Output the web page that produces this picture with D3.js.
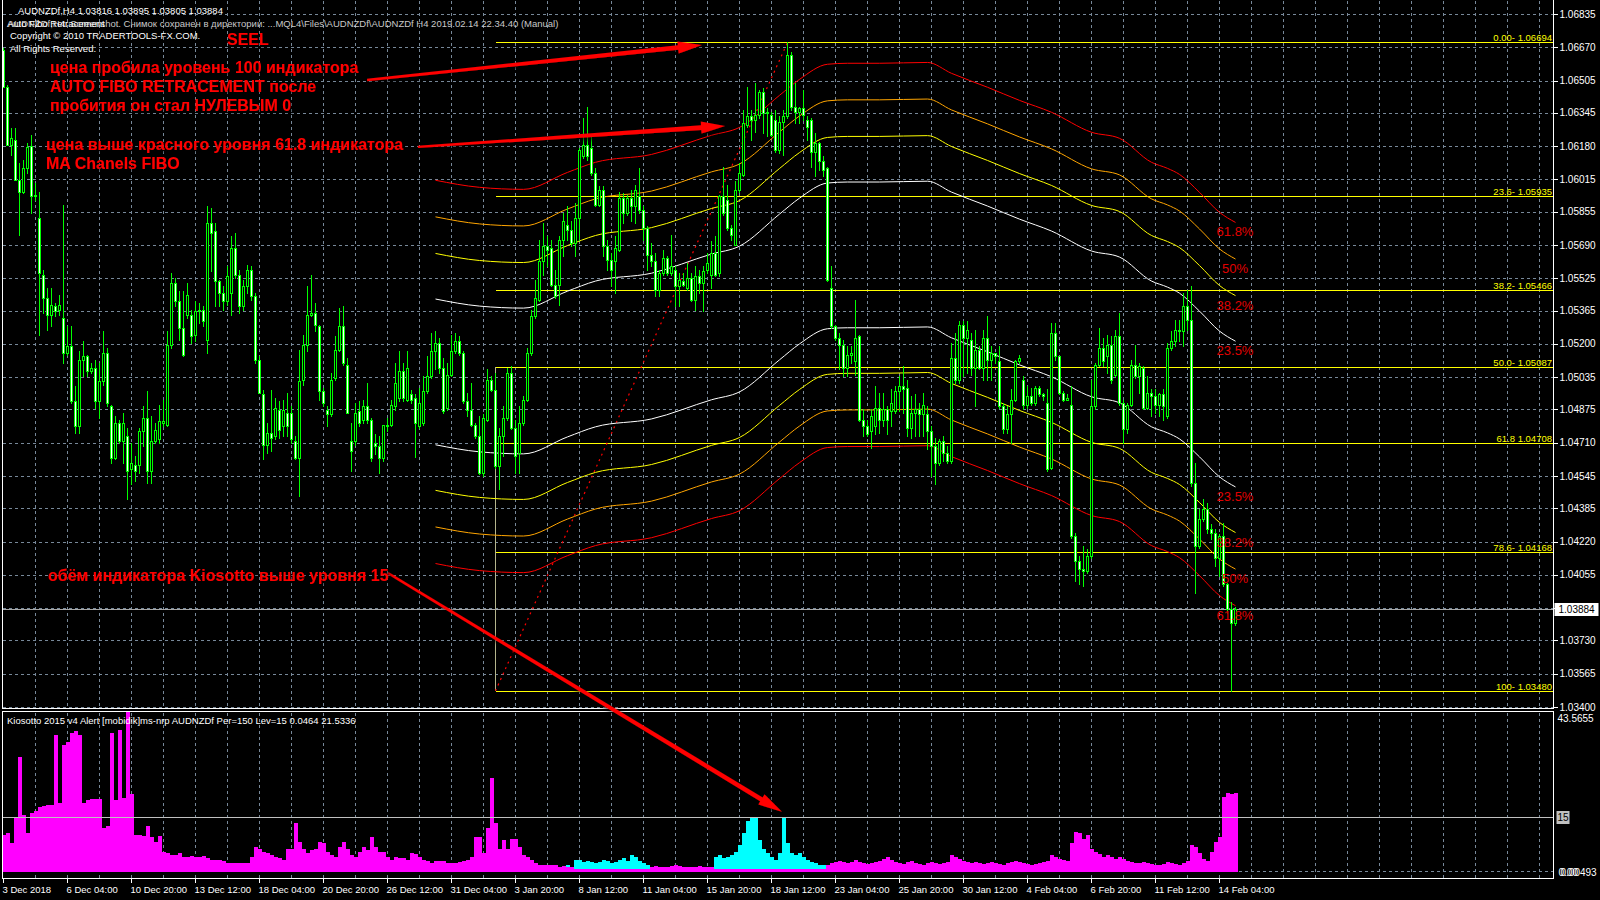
<!DOCTYPE html>
<html><head><meta charset="utf-8">
<script src="https://cdnjs.cloudflare.com/ajax/libs/d3/7.8.5/d3.min.js"></script>
<style>
html,body{margin:0;padding:0;background:#000;overflow:hidden;}
svg{display:block;}
text{font-family:"Liberation Sans",Arial,sans-serif;}
</style></head><body>
<svg id="c" width="1600" height="900"></svg>
<script>
// ---------------- DATA ----------------
const timeLabels = ["3 Dec 2018","6 Dec 04:00","10 Dec 20:00","13 Dec 12:00","18 Dec 04:00","20 Dec 20:00","26 Dec 12:00","31 Dec 04:00","3 Jan 20:00","8 Jan 12:00","11 Jan 04:00","15 Jan 20:00","18 Jan 12:00","23 Jan 04:00","25 Jan 20:00","30 Jan 12:00","4 Feb 04:00","6 Feb 20:00","11 Feb 12:00","14 Feb 04:00"];
const timeLabelBars = [0,16,32,48,64,80,96,112,128,144,160,176,192,208,224,240,256,272,288,304];
const priceTicks = [1.06835,1.06670,1.06505,1.06345,1.06180,1.06015,1.05855,1.05690,1.05525,1.05365,1.05200,1.05035,1.04875,1.04710,1.04545,1.04385,1.04220,1.04055,1.03890,1.03730,1.03565,1.03400];
const currentPrice = 1.03884;

const open = [
1.06656,1.06475,1.06186,1.06211,1.06013,1.05955,1.06071,1.06181,1.05931,1.05823,
1.05543,1.05427,1.05345,1.05386,1.05370,1.05328,1.05155,1.05188,1.04916,1.04792,
1.05122,1.05139,1.05064,1.05081,1.04916,1.05015,1.05155,1.04891,1.04635,1.04806,
1.04717,1.04743,1.04578,1.04602,1.04602,1.04767,1.04833,1.04569,1.04717,1.04726,
1.04808,1.04800,1.05196,1.05501,1.05411,1.05279,1.05345,1.05345,1.05246,1.05361,
1.05366,1.05221,1.05799,1.05757,1.05510,1.05452,1.05411,1.05452,1.05675,1.05543,
1.05386,1.05485,1.05568,1.05436,1.05122,1.04949,1.04701,1.04759,1.04742,1.04874,
1.04792,1.04858,1.04858,1.04717,1.04635,1.05023,1.05196,1.05345,1.05353,1.05287,
1.04965,1.04874,1.04850,1.05031,1.05171,1.05287,1.05097,1.04717,1.04717,1.04866,
1.04825,1.04891,1.04825,1.04710,1.04693,1.04635,1.04800,1.04800,1.04891,1.04932,
1.05064,1.04924,1.04949,1.04932,1.04792,1.04808,1.04965,1.05040,1.05163,1.05204,
1.05081,1.04883,1.05048,1.05163,1.05213,1.05155,1.04916,1.04874,1.04800,1.04742,
1.04561,1.04825,1.05023,1.04973,1.04594,1.04743,1.04833,1.05056,1.04784,1.04660,
1.04809,1.04924,1.05155,1.05337,1.05419,1.05609,1.05683,1.05675,1.05493,1.05493,
1.05716,1.05790,1.05766,1.05700,1.05823,1.06129,1.06186,1.06170,1.06046,1.05889,
1.05964,1.05683,1.05617,1.05609,1.05667,1.05922,1.05848,1.05922,1.05881,1.05931,
1.05865,1.05774,1.05642,1.05609,1.05469,1.05551,1.05625,1.05551,1.05568,1.05485,
1.05510,1.05477,1.05526,1.05419,1.05535,1.05502,1.05568,1.05543,1.05650,1.05551,
1.05931,1.05914,1.05774,1.05691,1.05964,1.06038,1.06285,1.06327,1.06310,1.06335,
1.06450,1.06343,1.06335,1.06310,1.06162,1.06302,1.06327,1.06632,1.06376,1.06351,
1.06368,1.06310,1.06310,1.06153,1.06195,1.06104,1.06071,1.05477,1.05287,1.05229,
1.05196,1.05081,1.05147,1.05114,1.05238,1.04825,1.04792,1.04767,1.04792,1.04883,
1.04825,1.04875,1.04866,1.04866,1.04965,1.04990,1.04982,1.04784,1.04858,1.04875,
1.04850,1.04850,1.04767,1.04693,1.04611,1.04718,1.04660,1.04619,1.05130,1.05023,
1.05295,1.05229,1.05221,1.05081,1.05172,1.05081,1.05229,1.05122,1.05155,1.05114,
1.04891,1.04776,1.04850,1.04924,1.05114,1.05023,1.04899,1.04941,1.04908,1.04982,
1.04949,1.04908,1.04586,1.05254,1.05139,1.04957,1.04924,1.04899,1.04248,1.04124,
1.04083,1.04074,1.04149,1.04891,1.05097,1.05180,1.05139,1.05196,1.05048,1.05238,
1.04908,1.04776,1.04899,1.05097,1.05040,1.05081,1.04883,1.04957,1.04941,1.04899,
1.04949,1.04842,1.05180,1.05213,1.05271,1.05262,1.05386,1.05320,1.04512,1.04198,
1.04330,1.04380,1.04281,1.04264,1.04140,1.04248,1.04008,1.03885,1.03816];
const high = [
1.06665,1.06483,1.06269,1.06269,1.06096,1.06112,1.06195,1.06236,1.05996,1.05955,
1.05568,1.05477,1.05477,1.05403,1.05444,1.05889,1.05287,1.05287,1.04990,1.05163,
1.05213,1.05147,1.05106,1.05122,1.05106,1.05262,1.05180,1.04899,1.04841,1.04825,
1.04858,1.04784,1.04710,1.04644,1.04784,1.04891,1.04965,1.04841,1.04808,1.04899,
1.04924,1.05262,1.05551,1.05526,1.05460,1.05460,1.05501,1.05370,1.05411,1.05403,
1.05386,1.05881,1.05873,1.05799,1.05518,1.05485,1.05584,1.05733,1.05749,1.05568,
1.05518,1.05592,1.05584,1.05452,1.05139,1.04973,1.04808,1.04973,1.04932,1.04916,
1.04924,1.04957,1.04891,1.04742,1.05172,1.05246,1.05485,1.05543,1.05403,1.05295,
1.04982,1.04891,1.05056,1.05237,1.05378,1.05386,1.05130,1.04808,1.04907,1.04916,
1.04924,1.05007,1.04833,1.04751,1.04743,1.04800,1.04833,1.04924,1.05106,1.05163,
1.05106,1.05163,1.04973,1.04949,1.04982,1.05040,1.05139,1.05254,1.05262,1.05229,
1.05130,1.05106,1.05246,1.05254,1.05237,1.05163,1.04957,1.05007,1.04808,1.04841,
1.04850,1.05073,1.05040,1.05056,1.04784,1.04891,1.05081,1.05089,1.04825,1.04891,
1.04941,1.05180,1.05370,1.05518,1.05716,1.05799,1.05733,1.05716,1.05568,1.05733,
1.05848,1.05881,1.05807,1.05898,1.06170,1.06318,1.06376,1.06228,1.06071,1.05980,
1.05980,1.05716,1.05650,1.05733,1.05955,1.05947,1.05939,1.05964,1.05988,1.06071,
1.05881,1.05782,1.05700,1.05650,1.05568,1.05667,1.05634,1.05741,1.05584,1.05551,
1.05551,1.05601,1.05551,1.05584,1.05568,1.05584,1.05650,1.05708,1.05733,1.05939,
1.06079,1.05988,1.05790,1.06005,1.06096,1.06360,1.06475,1.06360,1.06492,1.06459,
1.06467,1.06368,1.06351,1.06360,1.06327,1.06360,1.06694,1.06648,1.06492,1.06376,
1.06459,1.06327,1.06318,1.06244,1.06203,1.06129,1.06079,1.05584,1.05295,1.05254,
1.05221,1.05188,1.05188,1.05419,1.05246,1.04875,1.04825,1.04875,1.04990,1.04957,
1.04957,1.04891,1.04974,1.04990,1.05040,1.05089,1.05023,1.04941,1.04949,1.04908,
1.04957,1.04891,1.04792,1.04734,1.04726,1.04743,1.04693,1.05205,1.05254,1.05312,
1.05312,1.05312,1.05254,1.05271,1.05188,1.05271,1.05337,1.05188,1.05155,1.05188,
1.04908,1.04891,1.04974,1.05122,1.05147,1.05040,1.04990,1.04982,1.04990,1.04990,
1.04957,1.04974,1.05304,1.05304,1.05139,1.04965,1.04949,1.04990,1.04264,1.04149,
1.04198,1.04182,1.05023,1.05106,1.05279,1.05229,1.05246,1.05238,1.05271,1.05353,
1.04924,1.04908,1.05122,1.05196,1.05106,1.05089,1.05040,1.04974,1.04974,1.04957,
1.04974,1.05205,1.05262,1.05320,1.05320,1.05452,1.05469,1.05485,1.04611,1.04380,
1.04429,1.04413,1.04305,1.04281,1.04256,1.04314,1.04017,1.03918,1.03895];
const low = [
1.06475,1.06186,1.06137,1.06013,1.05741,1.05947,1.06046,1.05848,1.05914,1.05246,
1.05353,1.05271,1.05287,1.05337,1.05345,1.05106,1.05147,1.04908,1.04759,1.04759,
1.05040,1.05040,1.05056,1.04883,1.04833,1.04998,1.04891,1.04611,1.04627,1.04709,
1.04611,1.04429,1.04503,1.04520,1.04561,1.04693,1.04511,1.04511,1.04709,1.04709,
1.04792,1.04792,1.05180,1.05386,1.05221,1.05139,1.05328,1.05204,1.05213,1.05303,
1.05287,1.05155,1.05559,1.05386,1.05386,1.05370,1.05394,1.05345,1.05526,1.05353,
1.05370,1.05452,1.05419,1.05106,1.04957,1.04627,1.04660,1.04668,1.04726,1.04734,
1.04742,1.04742,1.04709,1.04627,1.04446,1.04998,1.05163,1.05337,1.05262,1.04924,
1.04891,1.04792,1.04841,1.05023,1.05163,1.05097,1.04858,1.04569,1.04701,1.04792,
1.04808,1.04808,1.04619,1.04652,1.04561,1.04619,1.04767,1.04792,1.04874,1.04916,
1.04916,1.04916,1.04907,1.04641,1.04784,1.04800,1.04957,1.05031,1.05073,1.05056,
1.04858,1.04874,1.05040,1.05155,1.05147,1.04907,1.04841,1.04792,1.04734,1.04553,
1.04544,1.04817,1.04965,1.04586,1.04479,1.04644,1.04825,1.04776,1.04561,1.04561,
1.04800,1.04916,1.05147,1.05328,1.05411,1.05543,1.05584,1.05485,1.05427,1.05394,
1.05634,1.05716,1.05683,1.05634,1.05716,1.06120,1.06112,1.06038,1.05881,1.05881,
1.05634,1.05568,1.05485,1.05452,1.05658,1.05799,1.05840,1.05807,1.05799,1.05848,
1.05716,1.05568,1.05584,1.05436,1.05436,1.05543,1.05543,1.05543,1.05386,1.05386,
1.05485,1.05469,1.05411,1.05370,1.05452,1.05361,1.05551,1.05477,1.05535,1.05535,
1.05840,1.05766,1.05716,1.05691,1.05955,1.06030,1.06277,1.06211,1.06252,1.06318,
1.06244,1.06228,1.06228,1.06153,1.06145,1.06137,1.06318,1.06360,1.06294,1.06294,
1.06310,1.06211,1.06079,1.06030,1.06063,1.06030,1.05510,1.05279,1.05221,1.05073,
1.05040,1.05040,1.05106,1.05048,1.04817,1.04743,1.04743,1.04685,1.04751,1.04759,
1.04792,1.04751,1.04792,1.04858,1.04866,1.04858,1.04743,1.04734,1.04743,1.04743,
1.04743,1.04677,1.04545,1.04503,1.04602,1.04619,1.04611,1.04611,1.05007,1.05007,
1.05040,1.05056,1.05048,1.04891,1.05073,1.05023,1.05023,1.05023,1.05106,1.04883,
1.04759,1.04759,1.04710,1.04916,1.05106,1.04875,1.04883,1.04899,1.04899,1.04941,
1.04924,1.04569,1.04578,1.05122,1.04949,1.04916,1.04924,1.04239,1.04025,1.04008,
1.04000,1.04066,1.04140,1.04875,1.05089,1.05089,1.05056,1.05007,1.05040,1.04899,
1.04710,1.04759,1.04891,1.05031,1.04957,1.04875,1.04875,1.04842,1.04858,1.04842,
1.04825,1.04833,1.05172,1.05188,1.05213,1.05188,1.05271,1.04495,1.03967,1.04190,
1.04322,1.04264,1.04231,1.04099,1.04050,1.04000,1.03868,1.03480,1.03805];
const close = [
1.06475,1.06186,1.06219,1.06013,1.05955,1.06071,1.06178,1.05931,1.05939,1.05551,
1.05427,1.05345,1.05394,1.05361,1.05394,1.05155,1.05188,1.04916,1.04792,1.05122,
1.05139,1.05064,1.05081,1.04916,1.05015,1.05155,1.04908,1.04635,1.04806,1.04717,
1.04806,1.04569,1.04611,1.04569,1.04767,1.04833,1.04569,1.04717,1.04775,1.04817,
1.04817,1.05196,1.05501,1.05411,1.05279,1.05147,1.05444,1.05237,1.05361,1.05366,
1.05312,1.05799,1.05749,1.05510,1.05452,1.05411,1.05535,1.05675,1.05543,1.05386,
1.05485,1.05568,1.05436,1.05122,1.04957,1.04701,1.04759,1.04734,1.04883,1.04775,
1.04874,1.04792,1.04726,1.04635,1.05015,1.05196,1.05345,1.05353,1.05295,1.04965,
1.04908,1.04850,1.05023,1.05171,1.05287,1.05106,1.04858,1.04668,1.04858,1.04808,
1.04891,1.04825,1.04635,1.04693,1.04635,1.04800,1.04792,1.04899,1.05007,1.05064,
1.04932,1.05081,1.04924,1.04808,1.04907,1.04965,1.05040,1.05163,1.05204,1.05081,
1.04866,1.05048,1.05163,1.05213,1.05155,1.04916,1.04874,1.04800,1.04742,1.04561,
1.04833,1.05023,1.04973,1.04594,1.04743,1.04833,1.05056,1.04784,1.04644,1.04809,
1.04924,1.05155,1.05337,1.05427,1.05609,1.05683,1.05667,1.05493,1.05436,1.05716,
1.05807,1.05766,1.05700,1.05823,1.06162,1.06186,1.06129,1.06046,1.05889,1.05964,
1.05683,1.05617,1.05568,1.05675,1.05922,1.05848,1.05922,1.05881,1.05964,1.05865,
1.05774,1.05642,1.05609,1.05469,1.05551,1.05625,1.05551,1.05584,1.05485,1.05518,
1.05493,1.05526,1.05419,1.05535,1.05502,1.05559,1.05601,1.05650,1.05543,1.05931,
1.05848,1.05774,1.05741,1.05964,1.06046,1.06294,1.06327,1.06310,1.06335,1.06450,
1.06343,1.06351,1.06236,1.06162,1.06302,1.06327,1.06632,1.06376,1.06351,1.06368,
1.06335,1.06277,1.06153,1.06195,1.06104,1.06063,1.05518,1.05287,1.05229,1.05196,
1.05081,1.05147,1.05155,1.05229,1.04825,1.04792,1.04751,1.04842,1.04883,1.04825,
1.04875,1.04825,1.04908,1.04965,1.04990,1.04974,1.04784,1.04858,1.04875,1.04850,
1.04899,1.04767,1.04693,1.04611,1.04718,1.04660,1.04619,1.05130,1.05023,1.05295,
1.05229,1.05271,1.05081,1.05172,1.05081,1.05229,1.05122,1.05155,1.05139,1.04891,
1.04776,1.04850,1.04924,1.05114,1.05130,1.04899,1.04941,1.04908,1.04982,1.04949,
1.04941,1.04578,1.05254,1.05139,1.04957,1.04924,1.04933,1.04248,1.04124,1.04083,
1.04074,1.04149,1.04891,1.05097,1.05180,1.05114,1.05196,1.05023,1.05238,1.04908,
1.04776,1.04899,1.05097,1.05040,1.05089,1.04883,1.04957,1.04941,1.04899,1.04949,
1.04891,1.05180,1.05213,1.05271,1.05262,1.05386,1.05320,1.04512,1.04198,1.04330,
1.04380,1.04281,1.04264,1.04140,1.04248,1.04008,1.03885,1.03816,1.03884];

// Auto Fibo Retracement
const fibPrices = [1.06694,1.05935,1.05466,1.05087,1.04708,1.04168,1.03480];
const fibLabels = ["0.00- 1.06694","23.6- 1.05935","38.2- 1.05466","50.0- 1.05087","61.8 1.04708","78.6- 1.04168","100- 1.03480"];
const fibStartBar = 123, fibHighBar = 196;

// MA Channels FIBO (centre line samples, % levels)
const maBars   = [108,119,130,141,148,162,177,184,194,199,206,211,219,231,237,246,254,262,272,279,287,291,294,299,304,308];
const maCenter = [1.05061,1.05026,1.05016,1.05100,1.05150,1.05189,1.05284,1.05323,1.05482,1.05561,1.05636,1.05641,1.05641,1.05645,1.05591,1.05522,1.05457,1.05398,1.05299,1.05269,1.05150,1.05120,1.05090,1.05001,1.04902,1.04852];
const maPercents = [23.5,38.2,50,61.8];
const maLabels = ["23.5%","38.2%","50%","61.8%"];
const maUnit = 0.0001537; // price per 1%

// Kiosotto histogram
const kioTicks = [43.5655, 15, 0.00493];
const kioLevel = 15;
const kioMagenta = [
10.0,10.5,7.8,15.1,31.3,15.6,10.5,16.0,16.5,17.8,18.0,18.3,18.3,37.4,18.7,34.6,35.5,37.8,38.5,37.4,
18.7,19.6,19.8,19.8,19.8,12.1,12.4,37.8,19.6,38.7,20.1,43.5,21.2,10.1,10.1,9.7,12.4,9.5,8.3,9.7,
5.5,5.1,4.6,4.6,5.1,4.2,4.2,4.4,4.2,4.2,
4.4,3.7,3.4,3.3,3.3,3.1,2.5,2.4,2.5,2.4,2.4,2.4,4.2,6.9,6.2,5.5,5.1,4.6,4.2,3.7,
3.4,6.4,6.4,13.3,8.3,6.4,5.1,6.0,6.4,8.3,7.8,5.5,4.6,4.2,6.9,8.3,6.4,4.6,4.2,5.5,
6.9,6.0,9.5,6.9,5.5,5.5,4.2,3.3,4.2,3.7,3.7,
3.3,5.1,4.9,4.2,3.4,3.1,2.5,3.1,3.1,3.1,2.5,2.5,2.5,2.8,3.0,3.3,4.0,9.5,9.5,5.1,
11.9,25.6,13.3,6.4,8.8,6.4,8.9,8.9,6.9,4.6,4.2,3.3,2.5,2.0,1.9,1.9,1.9,1.9,
1.5,1.6,1.5,1.4,
0.8,0.8,0.8,0.8,0.8,0.8,0.8,0.8,0.8,0.8,0.8,0.8,0.8,0.8,0.8,0.8,0.8,0.8,0.8,
1.5,1.6,1.5,1.4,1.5,1.6,2.0,1.6,1.5,1.4,1.5,1.5,1.6,1.5,1.4,1.5,
0.8,0.8,0.8,0.8,0.8,0.8,0.8,0.8,0.8,0.8,0.8,0.8,0.8,0.8,0.8,0.8,0.8,0.8,0.8,0.8,0.8,0.8,0.8,0.8,0.8,0.8,0.8,0.8,
2.0,2.4,2.7,3.0,2.8,2.5,2.7,3.3,2.8,2.4,2.2,2.5,2.8,3.1,3.6,4.2,3.3,2.8,2.5,2.2,
2.7,3.0,2.5,2.2,2.0,2.4,2.7,2.4,2.2,2.5,2.8,4.6,4.2,3.6,3.1,2.8,2.5,2.7,2.4,2.2,
2.5,2.8,2.5,2.2,2.0,2.4,2.7,3.0,2.7,2.4,2.2,2.0,2.2,2.5,2.8,3.0,4.6,4.2,3.6,3.3,
3.1,7.8,10.9,10.5,9.0,10.2,6.4,5.5,4.9,4.2,4.6,4.0,3.6,4.2,3.6,3.1,2.8,2.5,2.4,2.7,
2.5,2.2,2.0,1.9,2.2,2.8,2.5,2.2,2.0,2.4,3.0,7.4,6.8,5.1,3.6,3.0,5.5,8.3,9.5,20.5,
21.5,21.3,21.5336];
const kioCyan = [
0,0,0,0,0,0,0,0,0,0,0,0,0,0,0,0,0,0,0,0,
0,0,0,0,0,0,0,0,0,0,0,0,0,0,0,0,0,0,0,0,
0,0,0,0,0,0,0,0,0,0,0,0,0,0,0,0,0,0,0,0,
0,0,0,0,0,0,0,0,0,0,0,0,0,0,0,0,0,0,0,0,
0,0,0,0,0,0,0,0,0,0,0,0,0,0,0,0,0,0,0,0,
0,0,0,0,0,0,0,0,0,0,0,0,0,0,0,0,0,0,0,0,
0,0,0,0,0,0,0,0,0,0,0,0,0,0,0,0,0,0,0,0,
0,1.8,0,
3.4,3.3,2.8,3.1,2.8,2.5,2.8,3.3,3.1,2.5,2.8,3.3,3.7,3.0,4.6,4.2,3.0,2.4,2.0,
0,0,0,0,0,0,0,0,0,0,0,0,0,0,0,0,
4.2,4.6,3.7,4.0,4.6,5.5,7.4,10.5,13.8,15.1,15.1,8.8,6.4,5.1,4.2,3.3,5.1,15.1,8.0,5.1,
4.6,5.1,4.2,3.3,2.8,2.4,2.0,1.8,
0,0,0,0,0,0,0,0,0,0,0,0,0,0,0,0,0,0,0,0,
0,0,0,0,0,0,0,0,0,0,0,0,0,0,0,0,0,0,0,0,
0,0,0,0,0,0,0,0,0,0,0,0,0,0,0,0,0,0,0,0,
0,0,0,0,0,0,0,0,0,0,0,0,0,0,0,0,0,0,0,0,
0,0,0,0,0,0,0,0,0,0,0,0,0,0,0,0,0,0,0,0,
0,0,0];

// Annotations (in data space: [bar, value])
const arrows = [
  {from:[90.9,1.06508], to:[174.6,1.06681], toPanel:"main"},
  {from:[103.6,1.06176], to:[180.4,1.06280], toPanel:"main"},
  {from:[96.1,1.04064], to:[194.6,16.4], toPanel:"kio"}
];
const notes = [
  {t:"SEEL", x:227, y:45, s:16},
  {t:"цена пробила уровень 100 индикатора", x:50, y:73, s:16},
  {t:"AUTO FIBO RETRACEMENT после", x:50, y:92, s:16},
  {t:"пробития он стал НУЛЕВЫМ 0", x:50, y:111, s:16},
  {t:"цена выше красного уровня 61.8 индикатора", x:46, y:150, s:16},
  {t:"MA Chanels FIBO", x:46, y:169, s:16},
  {t:"обём индикатора Kiosotto выше уровня 15", x:48, y:581, s:16}
];
const headerLines = [
  {t:"AUDNZDf,H4  1.03816 1.03895 1.03805 1.03884", x:18, y:13.5, c:"#ffffff"},
  {t:"AUDNZDf,H4: Screenshot. Снимок сохранен в директории:  ...MQL4\\Files\\AUDNZDf\\AUDNZDf H4 2019.02.14 22.34.40 (Manual)", x:8, y:26.5, c:"#c8c8c8"},
  {t:"Auto Fibo Retracement", x:7, y:26.5, c:"#ffffff"},
  {t:"Copyright © 2010 TRADERTOOLS-FX.COM.", x:10, y:38.5, c:"#ffffff"},
  {t:"All Rights Reserved.", x:10, y:51.5, c:"#ffffff"}
];
const kioHeader = "Kiosotto 2015 v4 Alert [mobidik]ms-nrp AUDNZDf Per=150 Lev=15 0.0464 21.5336";

// ---------------- LAYOUT / STYLE ----------------
const L = 2.5, R = 1553.5, mainBottom = 708.5, kioTop = 711.5, kioBottom = 878.5;
const gridColor = "#778899";
const maColors = ["#ffffff","#ffff00","#ffa500","#ff0000"];
const n = close.length;

const svg = d3.select("#c");
svg.append("rect").attr("width",1600).attr("height",900).attr("fill","#000");

const x = d3.scaleLinear().domain([0, 308]).range([3.5, 1235.5]);
const y = d3.scaleLinear().domain([1.03400, 1.06835]).range([707, 14]);
const yk = d3.scaleLinear().domain([0.00493, 43.5655]).range([872, 712]);

const defs = svg.append("defs");
const f = defs.append("filter").attr("id","glow").attr("x","-10%").attr("y","-40%").attr("width","125%").attr("height","190%");
f.append("feGaussianBlur").attr("in","SourceAlpha").attr("stdDeviation",2.2).attr("result","b");
f.append("feOffset").attr("in","b").attr("dx",2).attr("dy",2).attr("result","o");
f.append("feFlood").attr("flood-color","#050505").attr("flood-opacity",1);
f.append("feComposite").attr("in2","o").attr("operator","in").attr("result","s");
const fm = f.append("feMerge"); fm.append("feMergeNode").attr("in","s"); fm.append("feMergeNode").attr("in","SourceGraphic");

// ---- grid ----
const gGrid = svg.append("g").attr("shape-rendering","crispEdges").attr("stroke",gridColor).attr("stroke-dasharray","3,3");
const vBars = d3.range(8, 8*49, 8).filter(b => x(b) < R - 2);
gGrid.selectAll("line.v1").data(vBars).join("line")
  .attr("x1",d=>Math.floor(x(d))+0.5).attr("x2",d=>Math.floor(x(d))+0.5).attr("y1",1).attr("y2",mainBottom-1);
gGrid.selectAll("line.v2").data(vBars).join("line").attr("class","v2")
  .attr("x1",d=>Math.floor(x(d))+0.5).attr("x2",d=>Math.floor(x(d))+0.5).attr("y1",kioTop+1).attr("y2",kioBottom-1);
gGrid.selectAll("line.h").data(priceTicks).join("line").attr("class","h")
  .attr("x1",L).attr("x2",R).attr("y1",d=>Math.round(y(d))+0.5).attr("y2",d=>Math.round(y(d))+0.5);
gGrid.append("line").attr("x1",L).attr("x2",R).attr("y1",Math.round(yk(0.00493))-0.5).attr("y2",Math.round(yk(0.00493))-0.5);

// ---- fibo ----
const gFib = svg.append("g");
gFib.selectAll("line").data(fibPrices).join("line").attr("shape-rendering","crispEdges")
  .attr("x1",x(fibStartBar)).attr("x2",R).attr("y1",d=>Math.round(y(d))+0.5).attr("y2",d=>Math.round(y(d))+0.5)
  .attr("stroke","#ffff00").attr("stroke-width",1);
gFib.append("line").attr("shape-rendering","crispEdges")
  .attr("x1",Math.floor(x(fibStartBar))+0.5).attr("x2",Math.floor(x(fibStartBar))+0.5)
  .attr("y1",y(fibPrices[3])).attr("y2",y(fibPrices[6])).attr("stroke","#b4b48c").attr("stroke-width",1);
gFib.append("line")
  .attr("x1",x(fibStartBar)).attr("y1",y(fibPrices[6])).attr("x2",x(fibHighBar)).attr("y2",y(fibPrices[0]))
  .attr("stroke","#ff0000").attr("stroke-width",1.2).attr("stroke-dasharray","2,4");
gFib.selectAll("text").data(fibLabels).join("text")
  .attr("x",R-1.5).attr("y",(d,i)=>Math.round(y(fibPrices[i]))-1.5).attr("text-anchor","end")
  .attr("fill","#ffff00").attr("font-size",9.5).text(d=>d);

// ---- current price line ----
svg.append("line").attr("shape-rendering","crispEdges").attr("x1",L).attr("x2",R)
  .attr("y1",Math.round(y(currentPrice))+0.5).attr("y2",Math.round(y(currentPrice))+0.5).attr("stroke","#a8a8a8");

// ---- MA channels ----
const gMA = svg.append("g");
const maPts = maBars.map((b,k)=>({b:b, c:maCenter[k]}));
maPercents.forEach((p,j)=>{
  [1,-1].forEach(s=>{
    const ln = d3.line().x(d=>x(d.b)).y(d=>y(d.c + s*p*maUnit)).curve(d3.curveMonotoneX);
    gMA.append("path").attr("d", ln(maPts)).attr("fill","none").attr("stroke",maColors[j]).attr("stroke-width",1);
  });
});

// ---- candles ----
const bars = d3.range(n).map(i=>({i:i,o:open[i],h:Math.max(high[i],open[i],close[i]),l:Math.min(low[i],open[i],close[i]),c:close[i]}));
const gC = svg.append("g").attr("shape-rendering","crispEdges");
const cg = gC.selectAll("g").data(bars).join("g");
cg.append("rect").attr("x",d=>x(d.i)-0.5).attr("width",1)
  .attr("y",d=>Math.round(y(d.h))).attr("height",d=>Math.max(1,Math.round(y(d.l))-Math.round(y(d.h))+1)).attr("fill","#00ff00");
cg.append("rect").attr("x",d=>x(d.i)-1.5).attr("width",3)
  .attr("y",d=>Math.min(Math.round(y(d.o)),Math.round(y(d.c))))
  .attr("height",d=>Math.abs(Math.round(y(d.o))-Math.round(y(d.c)))+1).attr("fill","#00ff00");
cg.filter(d=>Math.abs(Math.round(y(d.o))-Math.round(y(d.c)))>=2).append("rect")
  .attr("x",d=>x(d.i)-0.5).attr("width",1)
  .attr("y",d=>Math.min(Math.round(y(d.o)),Math.round(y(d.c)))+1)
  .attr("height",d=>Math.abs(Math.round(y(d.o))-Math.round(y(d.c)))-1)
  .attr("fill",d=>d.c<d.o?"#ffffff":"#000000");

// ---- MA labels ----
const last = maPts[maPts.length-1];
maPercents.forEach((p,j)=>{
  [1,-1].forEach(s=>{
    svg.append("text").attr("x",x(last.b)-0.5).attr("y",y(last.c + s*p*maUnit)+14)
      .attr("text-anchor","middle").attr("fill","#e00000").attr("font-size",13).text(maLabels[j]);
  });
});

// ---- Kiosotto histogram ----
const gK = svg.append("g").attr("shape-rendering","crispEdges");
gK.selectAll("rect.cy").data(kioCyan.map((v,i)=>({i:i,v:v})).filter(d=>d.v>0)).join("rect").attr("class","cy")
  .attr("x",d=>x(d.i)-2).attr("width",4).attr("y",d=>Math.round(yk(d.v))).attr("height",d=>yk(0.00493)-Math.round(yk(d.v))).attr("fill","#00ffff");
gK.selectAll("rect.mg").data(kioMagenta.map((v,i)=>({i:i,v:v})).filter(d=>d.v>0)).join("rect").attr("class","mg")
  .attr("x",d=>x(d.i)-2).attr("width",4).attr("y",d=>Math.round(yk(d.v))).attr("height",d=>yk(0.00493)-Math.round(yk(d.v))).attr("fill","#ff00ff");
svg.append("line").attr("shape-rendering","crispEdges").attr("x1",L).attr("x2",R)
  .attr("y1",Math.round(yk(kioLevel))+0.5).attr("y2",Math.round(yk(kioLevel))+0.5).attr("stroke","#c0c0c0");

// ---- frames ----
const gF = svg.append("g").attr("shape-rendering","crispEdges").attr("stroke","#ffffff").attr("fill","none");
gF.append("path").attr("d",`M${L},0 V${mainBottom} H${R} V0`);
gF.append("rect").attr("x",L).attr("y",kioTop).attr("width",R-L).attr("height",kioBottom-kioTop);

// ---- price axis ----
const gA = svg.append("g");
gA.selectAll("line").data(priceTicks).join("line").attr("shape-rendering","crispEdges")
  .attr("x1",R).attr("x2",R+4).attr("y1",d=>Math.round(y(d))+0.5).attr("y2",d=>Math.round(y(d))+0.5).attr("stroke","#ffffff");
gA.selectAll("text").data(priceTicks).join("text")
  .attr("x",R+6).attr("y",d=>y(d)).attr("dy","0.35em").attr("fill","#ffffff").attr("font-size",10)
  .text(d=>d.toFixed(5));
gA.append("rect").attr("x",R+1).attr("y",Math.round(y(currentPrice))-6).attr("width",44).attr("height",13).attr("fill","#ffffff");
gA.append("text").attr("x",R+5).attr("y",y(currentPrice)).attr("dy","0.35em").attr("fill","#000").attr("font-size",10).text(currentPrice.toFixed(5));

// indicator axis
gA.append("text").attr("x",R+4).attr("y",yk(kioTicks[0])+6).attr("dy","0.35em").attr("fill","#fff").attr("font-size",10).text(kioTicks[0].toFixed(4));
gA.append("rect").attr("x",R+3).attr("y",Math.round(yk(kioLevel))-6).attr("width",13).attr("height",13).attr("fill","#c0c0c0");
gA.append("text").attr("x",R+4).attr("y",yk(kioLevel)+1).attr("dy","0.35em").attr("fill","#000").attr("font-size",10).text(String(kioLevel));
gA.append("text").attr("x",R+5).attr("y",yk(kioTicks[2])).attr("dy","0.35em").attr("fill","#fff").attr("font-size",10).text("0.00");
gA.append("text").attr("x",R+7).attr("y",yk(kioTicks[2])).attr("dy","0.35em").attr("fill","#fff").attr("font-size",10).text(kioTicks[2].toFixed(5));

// ---- time axis ----
gA.selectAll("line.t").data(timeLabelBars).join("line").attr("class","t").attr("shape-rendering","crispEdges")
  .attr("x1",d=>Math.floor(x(d))+0.5).attr("x2",d=>Math.floor(x(d))+0.5).attr("y1",kioBottom).attr("y2",kioBottom+4).attr("stroke","#fff");
gA.selectAll("text.t").data(timeLabels).join("text").attr("class","t")
  .attr("x",(d,i)=>x(timeLabelBars[i])-1).attr("y",893).attr("fill","#ffffff").attr("font-size",9.5).text(d=>d);

// ---- indicator header ----
svg.append("text").attr("x",7).attr("y",723.5).attr("fill","#ffffff").attr("font-size",9.5).text(kioHeader);

// ---- annotations ----
const gAnn = svg.append("g");
function arrow(x1,y1,x2,y2){
  const dx=x2-x1, dy=y2-y1, len=Math.hypot(dx,dy), ux=dx/len, uy=dy/len, nx=-uy, ny=ux;
  const hl=24, hw=6, bx=x2-ux*hl, by=y2-uy*hl;
  const pts=[[x1+nx*1.2,y1+ny*1.2],[bx+nx*2.3,by+ny*2.3],[bx+nx*hw,by+ny*hw],[x2,y2],[bx-nx*hw,by-ny*hw],[bx-nx*2.3,by-ny*2.3],[x1-nx*1.2,y1-ny*1.2]];
  gAnn.append("polygon").attr("points",pts.map(p=>p[0].toFixed(1)+","+p[1].toFixed(1)).join(" ")).attr("fill","#ff0000").attr("filter","url(#glow)");
}
arrows.forEach(a=>{
  const x1=x(a.from[0]), y1=y(a.from[1]);
  const x2=x(a.to[0]), y2=a.toPanel==="kio"? yk(a.to[1]) : y(a.to[1]);
  arrow(x1,y1,x2,y2);
});
gAnn.selectAll("text").data(notes).join("text")
  .attr("x",d=>d.x).attr("y",d=>d.y).attr("fill","#ff0000").attr("font-weight","bold")
  .attr("font-size",d=>d.s).attr("filter","url(#glow)").text(d=>d.t);

// ---- header text ----
svg.append("g").selectAll("text").data(headerLines).join("text")
  .attr("x",d=>d.x).attr("y",d=>d.y).attr("fill",d=>d.c).attr("font-size",9.5).text(d=>d.t);
</script>
</body></html>
